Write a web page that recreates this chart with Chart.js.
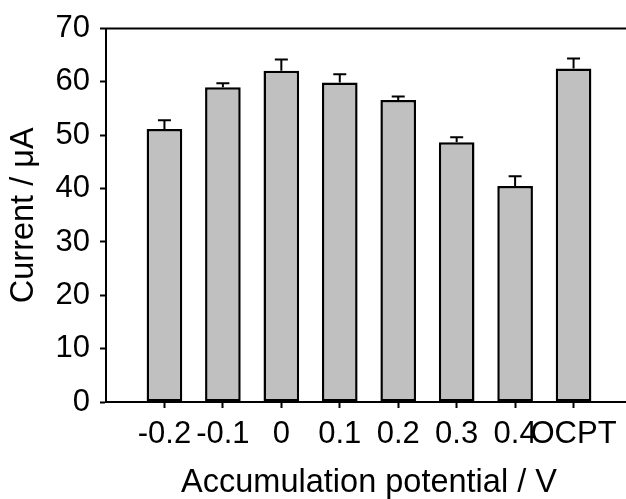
<!DOCTYPE html>
<html>
<head>
<meta charset="utf-8">
<script src="https://cdn.jsdelivr.net/npm/chart.js@4/dist/chart.umd.min.js"></script>
<style>
  html, body { margin: 0; padding: 0; background: #fff; overflow: hidden; width: 626px; height: 499px; }
  #wrap { width: 632px; height: 499px; }
</style>
</head>
<body>
<div id="wrap"><canvas id="c" width="632" height="499"></canvas></div>
<script>
const categories = ["-0.2", "-0.1", "0", "0.1", "0.2", "0.3", "0.4", "OCPT"];
const currentValues = [51.2, 59.0, 62.1, 59.9, 56.6, 48.7, 40.5, 62.5];
const errorValues = [1.6, 0.75, 2.1, 1.55, 0.65, 0.95, 1.8, 1.9];
const yTicks = [0, 10, 20, 30, 40, 50, 60, 70];

const FONT = "'Liberation Sans', Arial, sans-serif";
const points = categories.map((c, i) => ({ x: i + 1, y: currentValues[i] }));

const errorBarPlugin = {
  id: 'errorBars',
  afterDatasetsDraw(chart) {
    const xs = chart.scales.x, ys = chart.scales.y;
    const ctx = chart.ctx;
    ctx.save();
    ctx.strokeStyle = '#000';
    ctx.lineWidth = 2;
    currentValues.forEach((v, i) => {
      const px = xs.getPixelForValue(i + 1);
      const y0 = ys.getPixelForValue(v);
      const y1 = ys.getPixelForValue(v + errorValues[i]);
      ctx.beginPath();
      ctx.moveTo(px, y0);
      ctx.lineTo(px, y1);
      ctx.moveTo(px - 6.5, y1);
      ctx.lineTo(px + 6.5, y1);
      ctx.stroke();
    });
    // top frame line
    const a = chart.chartArea;
    ctx.beginPath();
    ctx.moveTo(a.left - 1, a.top);
    ctx.lineTo(chart.width, a.top);
    ctx.stroke();
    ctx.restore();
  }
};

new Chart(document.getElementById('c'), {
  type: 'bar',
  data: {
    datasets: [{
      data: points,
      backgroundColor: '#c0c0c0',
      borderColor: '#000',
      borderWidth: 2.5,
      borderSkipped: false,
      categoryPercentage: 1,
      barPercentage: 0.61
    }]
  },
  options: {
    responsive: false,
    animation: false,
    events: [],
    layout: { padding: { top: 27, left: 0, right: 0, bottom: 0 } },
    plugins: { legend: { display: false }, tooltip: { enabled: false } },
    scales: {
      x: {
        type: 'linear',
        min: 0,
        max: 9,
        offset: false,
        afterBuildTicks: (s) => { s.ticks = categories.map((c, i) => ({ value: i + 1 })); },
        afterFit: (s) => { s.height = 97; },
        ticks: {
          autoSkip: false,
          maxRotation: 0,
          minRotation: 0,
          padding: 8,
          color: '#000',
          font: { family: FONT, size: 31 },
          callback: (v) => categories[v - 1]
        },
        grid: { offset: false, drawOnChartArea: false, drawTicks: true, tickLength: 6, tickWidth: 2, tickColor: '#000' },
        border: { display: true, color: '#000', width: 2 },
        title: {
          display: true,
          text: 'Accumulation potential / V',
          color: '#000',
          font: { family: FONT, size: 32.5, lineHeight: 1 },
          padding: { top: 0, bottom: 0 }
        }
      },
      y: {
        min: 0,
        max: 70,
        afterBuildTicks: (s) => { s.ticks = yTicks.map(v => ({ value: v })); },
        afterFit: (s) => { s.width = 106; },
        ticks: {
          padding: 10,
          color: '#000',
          font: { family: FONT, size: 31 }
        },
        grid: { offset: false, drawOnChartArea: false, drawTicks: true, tickLength: 6, tickWidth: 2, tickColor: '#000' },
        border: { display: true, color: '#000', width: 2 },
        title: {
          display: true,
          text: 'Current / μA',
          color: '#000',
          font: { family: FONT, size: 32.5, lineHeight: 1.2 },
          padding: { top: 5, bottom: 0 }
        }
      }
    }
  },
  plugins: [errorBarPlugin]
});
</script>
</body>
</html>
